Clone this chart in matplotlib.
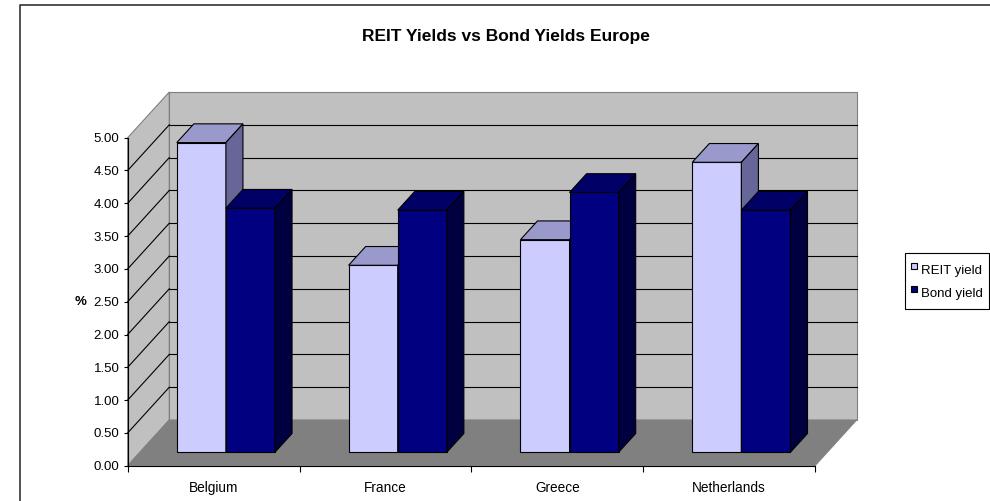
import matplotlib
matplotlib.use("Agg")
import matplotlib.pyplot as plt
from matplotlib.patches import Polygon
from matplotlib.lines import Line2D

countries = ["Belgium", "France", "Greece", "Netherlands"]
reit_yield = [4.72, 2.85, 3.24, 4.42]
bond_yield = [3.72, 3.69, 3.96, 3.69]
series_names = ["REIT yield", "Bond yield"]
y_ticks = [0.0, 0.5, 1.0, 1.5, 2.0, 2.5, 3.0, 3.5, 4.0, 4.5, 5.0]

plt.rcParams["font.family"] = ["Liberation Sans", "DejaVu Sans"]

# face colours: front, top, side
reit_cols = ("#ccccff", "#9999cc", "#666699")
bond_cols = ("#000080", "#000066", "#000040")

# oblique depth offset of the walls in data units
DX, DY = 0.2421, 0.6966
F0, F1 = 0.295, 0.705      # front / back planes of the bars
BW = 1 / 3.5               # bar width, gap width 150%

fig = plt.figure(figsize=(9.9, 5.01), dpi=100)
ax = fig.add_axes([0, 0, 1, 1])
ax.set_xlim(-0.7432, 5.0184)
ax.set_ylim(-0.538, 7.099)
ax.set_facecolor("white")

def poly(pts, fc, ec, lw=0.8, z=1):
    ax.add_patch(Polygon(pts, closed=True, fc=fc, ec=ec, lw=lw, zorder=z))

ymax = y_ticks[-1]
n = len(countries)
# walls and floor
poly([(0, 0), (0, ymax), (DX, ymax + DY), (DX, DY)], "#c0c0c0", "#808080")
poly([(DX, DY), (DX, ymax + DY), (n + DX, ymax + DY), (n + DX, DY)], "#c0c0c0", "#808080")
poly([(0, 0), (n, 0), (n + DX, DY), (DX, DY)], "#808080", "#808080")

for v in y_ticks[1:-1]:
    ax.plot([DX, n + DX], [v + DY, v + DY], color="black", lw=0.8, zorder=1.5)
    ax.plot([0, DX], [v, v + DY], color="black", lw=0.8, zorder=1.5)

def box(x0, v, cols):
    x1 = x0 + BW
    fx, fy = F0 * DX, F0 * DY
    bx, by = F1 * DX, F1 * DY
    ec = "black"
    poly([(x0 + fx, fy), (x1 + fx, fy), (x1 + fx, v + fy), (x0 + fx, v + fy)], cols[0], ec, z=2)
    poly([(x0 + fx, v + fy), (x1 + fx, v + fy), (x1 + bx, v + by), (x0 + bx, v + by)], cols[1], ec, z=2)
    poly([(x1 + fx, fy), (x1 + bx, by), (x1 + bx, v + by), (x1 + fx, v + fy)], cols[2], ec, z=2)

for i in range(n):
    box(i + 0.75 * BW, reit_yield[i], reit_cols)
    box(i + 1.75 * BW, bond_yield[i], bond_cols)

# axes spines as the front edges
for s in ["top", "right"]:
    ax.spines[s].set_visible(False)
ax.spines["left"].set_position(("data", 0))
ax.spines["left"].set_bounds(0, ymax)
ax.spines["bottom"].set_position(("data", 0))
ax.spines["bottom"].set_bounds(0, n)
for s in ["left", "bottom"]:
    ax.spines[s].set_linewidth(0.8)
    ax.spines[s].set_zorder(3)

ax.set_yticks(y_ticks)
ax.set_yticklabels(["%.2f" % t for t in y_ticks])
ax.set_xticks(range(n + 1))
ax.set_xticklabels([])
ax.set_xticks([i + 0.5 for i in range(n)], minor=True)
ax.set_xticklabels(countries, minor=True)
ax.tick_params(axis="y", direction="out", length=3, width=0.8, labelsize=9.5, pad=3)
ax.tick_params(axis="x", which="major", direction="out", length=4, width=0.8)
ax.tick_params(axis="x", which="minor", length=0, labelsize=9.8, pad=11)

ax.text(-0.237, 2.5, "%", ha="right", va="center", fontsize=9.5, fontweight="bold")
ax.text(0.511, 0.928, "REIT Yields vs Bond Yields Europe", transform=ax.transAxes,
        ha="center", va="center", fontsize=12.5, fontweight="bold")

# chart border
ax.plot([20 / 990, 20 / 990, 1.01], [-0.01, 1 - 5 / 501, 1 - 5 / 501], transform=ax.transAxes,
        color="#333333", lw=1.2, clip_on=False)

handles = [Line2D([], [], ls="none", marker="s", markersize=5, mfc=c[0], mec="black", mew=0.8)
           for c in (reit_cols, bond_cols)]
leg = ax.legend(handles, series_names, loc="upper left", bbox_to_anchor=(905 / 990, 1 - 253 / 501),
                borderaxespad=0, fancybox=False, edgecolor="black", fontsize=9.5,
                handlelength=0.6, handleheight=2.25, handletextpad=0.25, borderpad=0.4,
                labelspacing=0.05, framealpha=1)
leg.get_frame().set_linewidth(0.8)

fig.savefig("out.png", dpi=100)
